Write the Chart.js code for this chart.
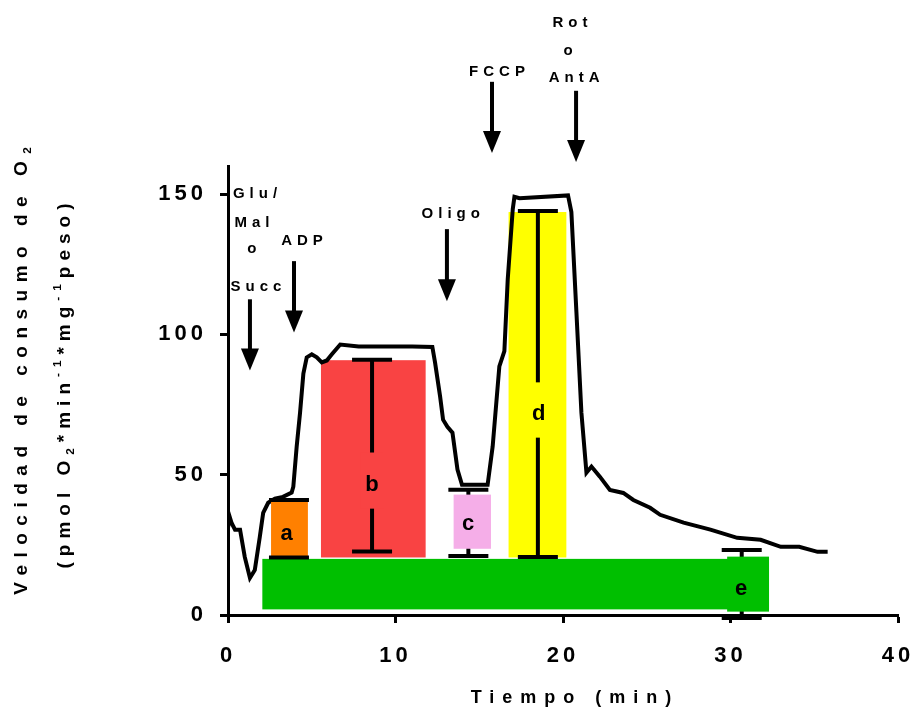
<!DOCTYPE html>
<html>
<head>
<meta charset="utf-8">
<script src="https://cdn.jsdelivr.net/npm/chart.js@4.4.0/dist/chart.umd.min.js"></script>
<style>
  html, body { margin: 0; padding: 0; background: #fff; }
  #wrap { width: 914px; height: 713px; }
</style>
</head>
<body>
<div id="wrap"><canvas id="myChart" width="914" height="713"></canvas></div>
<script>
// oxygen consumption trace
var timeMin = [0.0, 0.1, 0.22, 0.42, 0.72, 1.0, 1.31, 1.6, 1.9, 2.1, 2.4, 2.8, 3.28, 3.8, 3.9, 4.1, 4.3, 4.5, 4.7,
  5.0, 5.3, 5.6, 5.9, 6.2, 6.7, 7.8, 9.2, 11.0, 12.2, 12.36, 12.66, 12.84, 13.1, 13.4, 13.7, 13.97, 15.5,
  15.8, 16.2, 16.5, 16.7, 17.0, 17.1, 17.4, 20.3, 20.5, 20.8, 21.1, 21.4, 21.7, 22.2, 22.8, 23.6, 24.2,
  25.2, 25.8, 27.2, 28.8, 30.4, 31.8, 33.0, 34.1, 35.2, 35.8];
var rateO2 = [31, 35, 32.7, 30.4, 30.4, 20.7, 13.2, 16, 27.9, 36.4, 40, 41.5, 42.1, 43.6, 45.7, 60, 72, 86, 91.8,
  92.9, 91.8, 90, 90.7, 92.9, 96.4, 95.7, 95.7, 95.7, 95.5, 90, 78, 69.6, 67.1, 65, 51.8, 46.4, 46.4,
  60, 88.6, 94, 119.6, 144.6, 149, 148.5, 149.5, 143.6, 108, 72, 50.7, 52.9, 49.3, 44.6, 43.5, 41,
  38.2, 35.7, 32.9, 30.4, 27.5, 26.8, 24.3, 24.3, 22.5, 22.5];

var xTicks = [0, 10, 20, 30, 40];
var yTicks = [0, 50, 100, 150];

// shaded states (floating bars)
var barStart = [2.05, 5.55, 16.75];
var barEnd = [32.3, 11.8, 20.2];
var barLow = [2.0, 20.5, 20.5];
var barHigh = [20.0, 90.8, 143.6];
var barColors = ['#00bf00', '#f94343', '#ffff00'];

// error bars a..e
var errTime = [3.64, 8.6, 14.35, 18.5, 30.67];
var errLow = [20.5, 22.6, 21.0, 20.7, -1.1];
var errHigh = [41.0, 91.0, 44.6, 144.0, 23.2];

// letter boxes a..e
var boxNames = ['a', 'b', 'c', 'd', 'e'];
var boxStart = [2.57, 7.9, 13.47, 17.8, 29.8];
var boxEnd = [4.77, 9.3, 15.7, 19.2, 32.3];
var boxLow = [20.7, 37.9, 23.6, 63.2, 1.2];
var boxHigh = [40.4, 57.9, 42.9, 82.9, 20.8];
var boxColors = ['#ff8000', '#f94343', '#f5aee8', '#ffff00', '#00bf00'];
var labelTime = [3.5, 8.6, 14.33, 18.55, 30.63];
var labelRate = [28.9, 46.4, 32.5, 71.8, 9.3];

// additions
var addLines = [['Glu/', 'Mal', 'o', 'Succ'], ['ADP'], ['Oligo'], ['FCCP'], ['Rot', 'o', 'AntA']];
var addTextTime = [[1.61, 1.43, 1.43, 1.67], [4.42], [13.3], [16.06], [20.42, 20.3, 20.66]];
var addTextRate = [[150, 139.6, 130.4, 116.8], [133.2], [142.9], [193.6], [211, 201, 191.4]];
var arrowTime = [1.31, 3.94, 13.07, 15.76, 20.78];
var arrowFrom = [112.5, 126.1, 137.5, 190, 186.8];
var arrowTo = [87.1, 100.7, 111.8, 164.6, 161.4];

var FONT = "'Liberation Sans', Arial, sans-serif";

function spacedText(ctx, text, x, y, ls) {
  ctx.letterSpacing = ls + 'px';
  var w = ctx.measureText(text).width - ls;
  ctx.textAlign = 'left';
  ctx.fillText(text, x - w / 2, y);
}

function drawRuns(ctx, runs, size, ls) {
  var total = 0;
  ctx.letterSpacing = ls + 'px';
  runs.forEach(function (r) {
    var s = r.k ? size * 0.62 : size;
    ctx.font = 'bold ' + s + 'px ' + FONT;
    r.w = ctx.measureText(r.t).width;
    total += r.w;
  });
  total -= ls;
  var x = -total / 2;
  ctx.textAlign = 'left';
  ctx.textBaseline = 'middle';
  runs.forEach(function (r) {
    var s = r.k ? size * 0.62 : size;
    ctx.font = 'bold ' + s + 'px ' + FONT;
    var dy = r.k === 'sub' ? size * 0.3 : (r.k === 'sup' ? -size * 0.38 : 0);
    ctx.fillText(r.t, x, dy);
    x += r.w;
  });
}

var decor = {
  id: 'decor',
  beforeUpdate: function (chart) { chart.ctx.letterSpacing = '4px'; },
  beforeDraw: function (chart) { chart.ctx.letterSpacing = '4px'; },
  beforeDatasetsDraw: function (chart) {
    var ctx = chart.ctx, xs = chart.scales.x, ys = chart.scales.y;
    ctx.save();
    for (var i = 0; i < barStart.length; i++) {
      var x0 = xs.getPixelForValue(barStart[i]), x1 = xs.getPixelForValue(barEnd[i]);
      var y0 = ys.getPixelForValue(barHigh[i]), y1 = ys.getPixelForValue(barLow[i]);
      ctx.fillStyle = barColors[i];
      ctx.fillRect(x0, y0, x1 - x0, y1 - y0);
    }
    ctx.restore();
  },
  afterDatasetsDraw: function (chart) {
    var ctx = chart.ctx, xs = chart.scales.x, ys = chart.scales.y;
    var i, x, cap = 20;
    ctx.save();
    ctx.strokeStyle = '#000';
    ctx.lineWidth = 4;
    // stems
    for (i = 0; i < errTime.length; i++) {
      x = xs.getPixelForValue(errTime[i]);
      ctx.beginPath();
      ctx.moveTo(x, ys.getPixelForValue(errLow[i]));
      ctx.lineTo(x, ys.getPixelForValue(errHigh[i]));
      ctx.stroke();
    }
    // letter boxes
    for (i = 0; i < boxStart.length; i++) {
      var x0 = xs.getPixelForValue(boxStart[i]), x1 = xs.getPixelForValue(boxEnd[i]);
      var y0 = ys.getPixelForValue(boxHigh[i]), y1 = ys.getPixelForValue(boxLow[i]);
      ctx.fillStyle = boxColors[i];
      ctx.fillRect(x0, y0, x1 - x0, y1 - y0);
    }
    // caps
    for (i = 0; i < errTime.length; i++) {
      x = xs.getPixelForValue(errTime[i]);
      [errLow[i], errHigh[i]].forEach(function (v) {
        var y = ys.getPixelForValue(v);
        ctx.beginPath();
        ctx.moveTo(x - cap, y);
        ctx.lineTo(x + cap, y);
        ctx.stroke();
      });
    }
    // letters
    ctx.fillStyle = '#000';
    ctx.font = 'bold 22px ' + FONT;
    ctx.textBaseline = 'middle';
    for (i = 0; i < boxNames.length; i++) {
      spacedText(ctx, boxNames[i], xs.getPixelForValue(labelTime[i]), ys.getPixelForValue(labelRate[i]), 0);
    }
    ctx.restore();
  },
  afterDraw: function (chart) {
    var ctx = chart.ctx, xs = chart.scales.x, ys = chart.scales.y;
    var i, j;
    ctx.save();
    ctx.fillStyle = '#000';
    ctx.strokeStyle = '#000';
    // arrows
    for (i = 0; i < arrowTime.length; i++) {
      var x = xs.getPixelForValue(arrowTime[i]);
      var yA = ys.getPixelForValue(arrowFrom[i]), yB = ys.getPixelForValue(arrowTo[i]);
      ctx.lineWidth = 4;
      ctx.beginPath();
      ctx.moveTo(x, yA);
      ctx.lineTo(x, yB - 20);
      ctx.stroke();
      ctx.beginPath();
      ctx.moveTo(x - 9, yB - 22);
      ctx.lineTo(x + 9, yB - 22);
      ctx.lineTo(x, yB);
      ctx.closePath();
      ctx.fill();
    }
    // addition texts
    ctx.font = 'bold 15px ' + FONT;
    ctx.textBaseline = 'middle';
    for (i = 0; i < addLines.length; i++) {
      for (j = 0; j < addLines[i].length; j++) {
        spacedText(ctx, addLines[i][j], xs.getPixelForValue(addTextTime[i][j]), ys.getPixelForValue(addTextRate[i][j]), 5);
      }
    }
    // x title
    ctx.font = 'bold 18px ' + FONT;
    spacedText(ctx, 'Tiempo (min)', 571, 698, 8);
    // y title
    ctx.save();
    ctx.translate(22, 371);
    ctx.rotate(-Math.PI / 2);
    drawRuns(ctx, [{ t: 'Velocidad de consumo de O' }, { t: '2', k: 'sub' }], 19, 7.5);
    ctx.restore();
    ctx.save();
    ctx.translate(65, 386);
    ctx.rotate(-Math.PI / 2);
    drawRuns(ctx, [{ t: '(pmol O' }, { t: '2', k: 'sub' }, { t: '*min' }, { t: '-1', k: 'sup' },
      { t: '*mg' }, { t: '-1', k: 'sup' }, { t: 'peso)' }], 19, 6);
    ctx.restore();
    ctx.restore();
  }
};

var points = timeMin.map(function (t, i) { return { x: t, y: rateO2[i] }; });

var myChart = document.getElementById('myChart').getContext('2d');

var chart = new Chart(myChart, {
  type: 'line',
  data: {
    datasets: [{
      data: points,
      borderColor: '#000',
      borderWidth: 4,
      pointRadius: 0,
      tension: 0,
      fill: false
    }]
  },
  options: {
    responsive: false,
    animation: false,
    layout: { padding: { top: 166, right: 16, left: 0, bottom: 0 } },
    plugins: { legend: { display: false }, tooltip: { enabled: false } },
    scales: {
      x: {
        type: 'linear',
        min: 0,
        max: 40,
        afterBuildTicks: function (s) { s.ticks = xTicks.map(function (v) { return { value: v }; }); },
        afterFit: function (s) { s.height = 98; s.paddingRight = 0; s.paddingLeft = 0; },
        grid: { drawOnChartArea: false, drawTicks: true, tickLength: 8, tickWidth: 3, tickColor: '#000' },
        border: { display: true, width: 3, color: '#000' },
        ticks: { color: '#000', font: { family: FONT, size: 22, weight: 'bold' }, padding: 20, maxRotation: 0 }
      },
      y: {
        type: 'linear',
        min: 0,
        max: 160,
        afterBuildTicks: function (s) { s.ticks = yTicks.map(function (v) { return { value: v }; }); },
        afterFit: function (s) { s.width = 228; s.paddingTop = 0; s.paddingBottom = 0; },
        grid: { drawOnChartArea: false, drawTicks: true, tickLength: 8, tickWidth: 3, tickColor: '#000' },
        border: { display: true, width: 3, color: '#000' },
        ticks: { color: '#000', font: { family: FONT, size: 22, weight: 'bold' }, padding: 13 }
      }
    }
  },
  plugins: [decor]
});
</script>
</body>
</html>
